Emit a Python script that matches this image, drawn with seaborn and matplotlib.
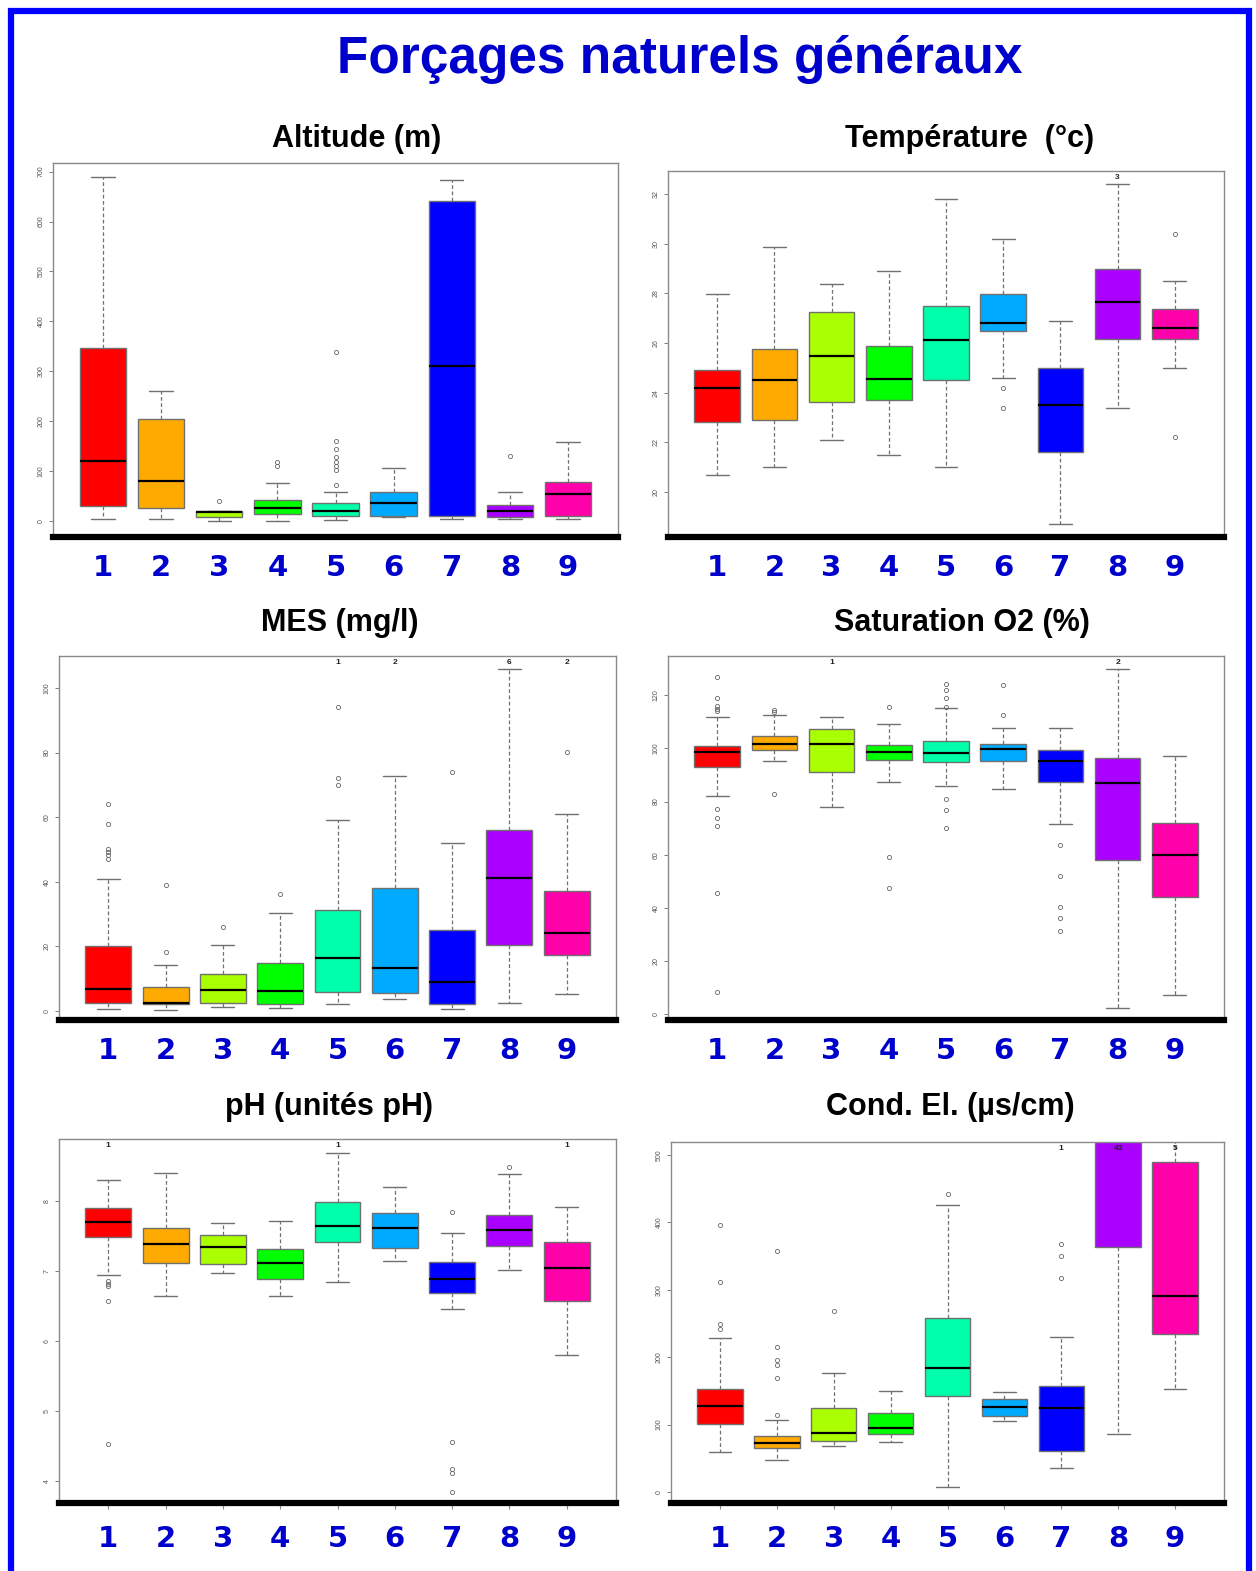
import matplotlib
matplotlib.use("Agg")
import matplotlib.pyplot as plt
from matplotlib.patches import Rectangle
import seaborn as sns

sns.set_theme(style="white")
plt.rcParams["font.family"] = ["Liberation Sans", "DejaVu Sans"]

groups = ["1", "2", "3", "4", "5", "6", "7", "8", "9"]
# R rainbow(9)
colors = sns.color_palette(["#FF0000", "#FFAA00", "#AAFF00", "#00FF00", "#00FFAA",
                            "#00AAFF", "#0000FF", "#AA00FF", "#FF00AA"])

# %% Altitude (m)
alt_q1 = [30, 26, 8, 14, 10, 10, 10, 8, 10]
alt_med = [120, 80, 19, 26, 20, 36, 311, 20, 54]
alt_q3 = [347, 204, 20, 42, 36, 58, 641, 32, 78]
alt_lo = [4, 4, 0, 0, 2, 8, 4, 4, 4]
alt_hi = [690, 260, 20, 76, 58, 106, 683, 58, 158]
alt_out = [[], [], [40], [118, 110], [72, 102, 110, 118, 128, 144, 160, 338], [], [], [130], []]
alt_top = {}

# %% Temperature
temp_q1 = [22.81, 22.92, 23.62, 23.71, 24.5, 26.48, 21.6, 26.17, 26.17]
temp_med = [24.19, 24.52, 25.47, 24.56, 26.12, 26.79, 23.5, 27.67, 26.59]
temp_q3 = [24.91, 25.78, 27.27, 25.87, 27.49, 27.97, 25.01, 28.99, 27.37]
temp_lo = [20.69, 20.99, 22.08, 21.51, 20.99, 24.61, 18.7, 23.4, 25.0]
temp_hi = [27.97, 29.88, 28.39, 28.9, 31.8, 30.19, 26.88, 32.39, 28.48]
temp_out = [[], [], [], [], [], [24.2, 23.4], [], [], [30.39, 22.2]]
temp_top = {8: "3"}

# %% MES (mg/l)
mes_q1 = [2.6, 2.3, 2.4, 2.3, 6.0, 5.7, 2.3, 20.3, 17.2]
mes_med = [6.8, 2.4, 6.6, 6.1, 16.5, 13.2, 9.1, 41.1, 24.2]
mes_q3 = [20.2, 7.3, 11.4, 14.8, 31.3, 38.0, 25.1, 55.9, 37.1]
mes_lo = [0.6, 0.4, 1.1, 0.9, 2.1, 3.6, 0.5, 2.4, 5.4]
mes_hi = [41.0, 14.1, 20.3, 30.2, 59.0, 72.9, 51.9, 105.8, 61.0]
mes_out = [[64.1, 58.0, 50.2, 49.3, 48.4, 47.1], [18.2, 39.0], [26.1], [36.2],
           [94.2, 72.0, 70.0], [], [74.1], [], [80.1]]
mes_top = {5: "1", 6: "2", 8: "6", 9: "2"}

# %% Saturation O2 (%)
o2_q1 = [92.9, 99.4, 91.1, 95.6, 94.9, 95.2, 87.2, 58.1, 44.2]
o2_med = [98.5, 101.7, 101.7, 98.7, 98.3, 99.6, 95.1, 86.8, 59.8]
o2_q3 = [100.9, 104.6, 107.1, 101.3, 102.8, 101.7, 99.2, 96.3, 71.8]
o2_lo = [82.0, 95.1, 77.9, 87.2, 85.9, 84.9, 71.4, 2.4, 7.4]
o2_hi = [111.7, 112.4, 111.8, 109.2, 115.0, 107.5, 107.5, 129.7, 97.2]
o2_out = [[126.8, 119.0, 115.9, 114.8, 114.0, 77.2, 74.0, 70.9, 45.5, 8.3],
          [114.4, 113.5, 82.7], [], [115.7, 59.0, 47.6],
          [124.2, 121.9, 119.0, 115.4, 81.0, 76.8, 69.9], [123.8, 112.6],
          [63.6, 51.9, 40.4, 36.2, 31.4], [], []]
o2_top = {3: "1", 8: "2"}

# %% pH
ph_q1 = [7.48, 7.11, 7.10, 6.88, 7.42, 7.33, 6.68, 7.36, 6.57]
ph_med = [7.70, 7.39, 7.34, 7.12, 7.65, 7.62, 6.89, 7.58, 7.04]
ph_q3 = [7.90, 7.62, 7.51, 7.32, 7.99, 7.83, 7.13, 7.80, 7.42]
ph_lo = [6.95, 6.65, 6.97, 6.64, 6.85, 7.14, 6.46, 7.02, 5.80]
ph_hi = [8.30, 8.40, 7.69, 7.72, 8.68, 8.20, 7.54, 8.38, 7.91]
ph_out = [[6.86, 6.82, 6.79, 6.57, 4.53], [], [], [], [], [],
          [7.85, 4.56, 4.17, 4.12, 3.85], [8.49], []]
ph_top = {1: "1", 5: "1", 9: "1"}

# %% Conductivite
cond_q1 = [100.9, 65.3, 76.1, 86.5, 142, 113, 61, 363, 234]
cond_med = [127.1, 72.7, 87.5, 95.4, 184, 126, 125, 560, 291]
cond_q3 = [153.3, 82.6, 124.2, 117.7, 258, 138, 157, 700, 490]
cond_lo = [58.9, 47.0, 68.7, 73.7, 7, 105, 36, 86, 153]
cond_hi = [228, 106.4, 177, 150.3, 426, 148, 230, 900, 600]
cond_out = [[396, 312, 250, 242], [113.8, 169.6, 188, 195.8, 215.6, 357], [269], [],
            [442], [], [318, 350, 368], [], []]
cond_top = {7: "1", 8: "43", 9: "5"}

W, H = 1256, 1571
fig = plt.figure(figsize=(W / 100, H / 100), dpi=100)
fig.patch.set_facecolor("white")

# blue frame of the poster
fig.patches.append(Rectangle((11 / W, -0.05), (1249 - 11) / W, 1.05 - 11 / H,
                             transform=fig.transFigure, fill=False,
                             edgecolor="#0000FF", lw=4.5))
fig.text(680 / W, 1 - 60 / H, "Forçages naturels généraux", ha="center", va="center",
         fontsize=37, fontweight="bold", color="#0000CC")


def draw_panel(rect, title, title_x, title_y, q1, med, q3, lo, hi, out, top,
               ylim, yticks, xticks_visible):
    x0, y0, x1, y1 = rect
    ax = fig.add_axes([x0 / W, 1 - y1 / H, (x1 - x0) / W, (y1 - y0) / H])
    stats = []
    for i in range(len(groups)):
        stats.append(dict(q1=q1[i], med=med[i], q3=q3[i], whislo=lo[i], whishi=hi[i],
                          fliers=out[i], label=groups[i]))
    pos = list(range(1, len(groups) + 1))
    bp = ax.bxp(stats, positions=pos, widths=0.8, capwidths=0.4, patch_artist=True,
                boxprops=dict(edgecolor="#707070", lw=1),
                whiskerprops=dict(color="#707070", ls=(0, (3, 2)), lw=0.9),
                capprops=dict(color="#707070", lw=1),
                medianprops=dict(color="black", lw=1.6),
                flierprops=dict(marker="o", ms=3, mfc="none", mec="#666666", mew=0.6))
    for patch, c in zip(bp["boxes"], colors):
        patch.set_facecolor(c)
    for p, s in top.items():
        ax.text(p, 0.982, s, transform=ax.get_xaxis_transform(), ha="center", va="center",
                fontsize=6, fontweight="bold", color="#222222")
    ax.set_xlim(0.14, 9.86)
    ax.set_ylim(*ylim)
    ax.set_yticks(yticks)
    ax.set_xticks(pos, labels=groups)
    for lab in ax.get_xticklabels():
        lab.set_fontsize(21)
        lab.set_fontweight("bold")
        lab.set_color("#0000CC")
        lab.set_family("DejaVu Sans")
    ax.tick_params(axis="x", length=4 if xticks_visible else 0, width=0.8, color="#888888",
                   pad=12, bottom=True)
    ax.tick_params(axis="y", labelsize=5, labelcolor="#555555", labelrotation=90,
                   length=3, width=0.6, color="#666666", pad=3, left=True)
    for lab in ax.get_yticklabels():
        lab.set_va("center")
    for side in ["left", "top", "right"]:
        ax.spines[side].set_color("#8a8a8a")
        ax.spines[side].set_linewidth(1)
    ax.spines["bottom"].set_color("black")
    ax.spines["bottom"].set_linewidth(4.5)
    ax.grid(False)
    ax.set_facecolor("white")
    fig.text(title_x / W, 1 - title_y / H, title, ha="center", va="center",
             fontsize=22, fontweight="bold", color="black")
    return ax


draw_panel((53, 163, 618, 537), "Altitude (m)", 357, 139,
           alt_q1, alt_med, alt_q3, alt_lo, alt_hi, alt_out, alt_top,
           (-32.1, 717.4), [0, 100, 200, 300, 400, 500, 600, 700], False)
draw_panel((668, 171, 1224, 537), "Température  (°c)", 970, 139,
           temp_q1, temp_med, temp_q3, temp_lo, temp_hi, temp_out, temp_top,
           (18.19, 32.93), [20, 22, 24, 26, 28, 30, 32], False)
draw_panel((59, 656, 616, 1020), "MES (mg/l)", 340, 623,
           mes_q1, mes_med, mes_q3, mes_lo, mes_hi, mes_out, mes_top,
           (-2.8, 109.9), [0, 20, 40, 60, 80, 100], False)
draw_panel((668, 656, 1224, 1020), "Saturation O2 (%)", 962, 623,
           o2_q1, o2_med, o2_q3, o2_lo, o2_hi, o2_out, o2_top,
           (-2.1, 134.7), [0, 20, 40, 60, 80, 100, 120], False)
draw_panel((59, 1139, 616, 1503), "pH (unités pH)", 329, 1107,
           ph_q1, ph_med, ph_q3, ph_lo, ph_hi, ph_out, ph_top,
           (3.686, 8.886), [4, 5, 6, 7, 8], True)
draw_panel((671, 1142, 1224, 1503), "Cond. El. (µs/cm)", 950, 1107,
           cond_q1, cond_med, cond_q3, cond_lo, cond_hi, cond_out, cond_top,
           (-16.3, 519.3), [0, 100, 200, 300, 400, 500], True)

fig.savefig("out.png", dpi=100, facecolor="white")
